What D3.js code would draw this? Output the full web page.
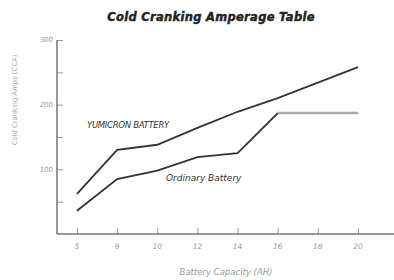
<!DOCTYPE html>
<html>
<head>
<meta charset="utf-8">
<script src="https://cdnjs.cloudflare.com/ajax/libs/d3/7.8.5/d3.min.js"></script>
<style>
  body { margin: 0; background: #fff; }
  text { font-family: 'DejaVu Sans', sans-serif; }
</style>
</head>
<body>
<div id="chart"></div>
<script>
// capacities (Ah) and CCA
var capacities = ['5', '9', '10', '12', '14', '16', '18', '20'];
var yumicron = [62, 130, 138, 164, 189, 210, 234, 258];
var ordinary = [36, 85, 98, 119, 125, 187, 187, 187];
var yTicks = [100, 200, 300];

var margin = {top: 40, right: 0, bottom: 46, left: 57},
    width = 394 - margin.left - margin.right,
    height = 280 - margin.top - margin.bottom;

var xScale = d3.scalePoint()
    .domain(capacities)
    .range([20, 301]);

var yScale = d3.scaleLinear()
    .domain([0, 300])
    .range([height, 0]);

var svg = d3.select('#chart').append('svg')
    .attr('width', 394)
    .attr('height', 280);

svg.append('text')
    .attr('x', 211)
    .attr('y', 21)
    .attr('text-anchor', 'middle')
    .style('font-size', '11.5px')
    .style('font-weight', 'bold')
    .style('font-style', 'italic')
    .style('letter-spacing', '0.3px')
    .style('stroke', '#222')
    .style('stroke-width', '0.4px')
    .style('fill', '#222')
    .text('Cold Cranking Amperage Table');

var g = svg.append('g')
    .attr('transform', 'translate(' + margin.left + ',' + margin.top + ')');

// y axis, ticks pointing inward with minor ticks in between
var yAxis = d3.axisRight(yScale)
    .tickValues(d3.range(50, 301, 50))
    .tickSize(6)
    .tickFormat('');

var ya = g.append('g').call(yAxis);
ya.select('.domain').remove();
ya.selectAll('line').attr('stroke', '#999');

g.append('line')
    .attr('x1', 0).attr('x2', 0)
    .attr('y1', yScale(300)).attr('y2', height)
    .attr('stroke', '#777').attr('stroke-width', 1.5);

g.selectAll('.ylab')
    .data(yTicks)
  .enter().append('text')
    .attr('x', -4)
    .attr('y', function(d) { return yScale(d); })
    .attr('dy', '.35em')
    .attr('text-anchor', 'end')
    .style('font-size', '7px')
    .style('font-style', 'italic')
    .style('fill', '#999')
    .text(function(d) { return d; });

// x axis
var xAxis = d3.axisTop(xScale)
    .tickSize(6)
    .tickFormat('');

var xa = g.append('g')
    .attr('transform', 'translate(0,' + height + ')')
    .call(xAxis);
xa.select('.domain').remove();
xa.selectAll('line').attr('stroke', '#999');

g.append('line')
    .attr('x1', 0).attr('x2', width)
    .attr('y1', height).attr('y2', height)
    .attr('stroke', '#777').attr('stroke-width', 1.5);

g.selectAll('.xlab')
    .data(capacities)
  .enter().append('text')
    .attr('x', function(d) { return xScale(d); })
    .attr('y', height + 15)
    .attr('text-anchor', 'middle')
    .style('font-size', '7.5px')
    .style('font-style', 'italic')
    .style('fill', '#999')
    .text(function(d) { return d; });

svg.append('text')
    .attr('x', 226)
    .attr('y', 275)
    .attr('text-anchor', 'middle')
    .style('font-size', '8.5px')
    .style('font-style', 'italic')
    .style('fill', '#999')
    .text('Battery Capacity (AH)');

svg.append('text')
    .attr('transform', 'translate(17,100) rotate(-90)')
    .attr('text-anchor', 'middle')
    .style('font-size', '6.8px')
    .style('fill', '#aaa')
    .text('Cold Cranking Amps (CCA)');

var line = d3.line()
    .x(function(d, i) { return xScale(capacities[i]); })
    .y(function(d) { return yScale(d); });

// flat tail of the ordinary series drawn lighter
g.append('path')
    .datum(ordinary.slice(5))
    .attr('d', d3.line()
      .x(function(d, i) { return xScale(capacities[i + 5]); })
      .y(function(d) { return yScale(d); }))
    .attr('fill', 'none')
    .attr('stroke', '#aaa')
    .attr('stroke-width', 2.5);

g.append('path')
    .datum(ordinary.slice(0, 6))
    .attr('d', line)
    .attr('fill', 'none')
    .attr('stroke', '#333')
    .attr('stroke-width', 1.8);

g.append('path')
    .datum(yumicron)
    .attr('d', line)
    .attr('fill', 'none')
    .attr('stroke', '#333')
    .attr('stroke-width', 1.8);

g.append('text')
    .attr('x', 87 - margin.left)
    .attr('y', 128 - margin.top)
    .style('font-size', '8.5px')
    .style('font-style', 'italic')
    .style('letter-spacing', '-0.3px')
    .style('fill', '#333')
    .text('YUMICRON BATTERY');

g.append('text')
    .attr('x', 166 - margin.left)
    .attr('y', 181 - margin.top)
    .style('font-size', '9px')
    .style('font-style', 'italic')
    .style('fill', '#333')
    .text('Ordinary Battery');
</script>
</body>
</html>
